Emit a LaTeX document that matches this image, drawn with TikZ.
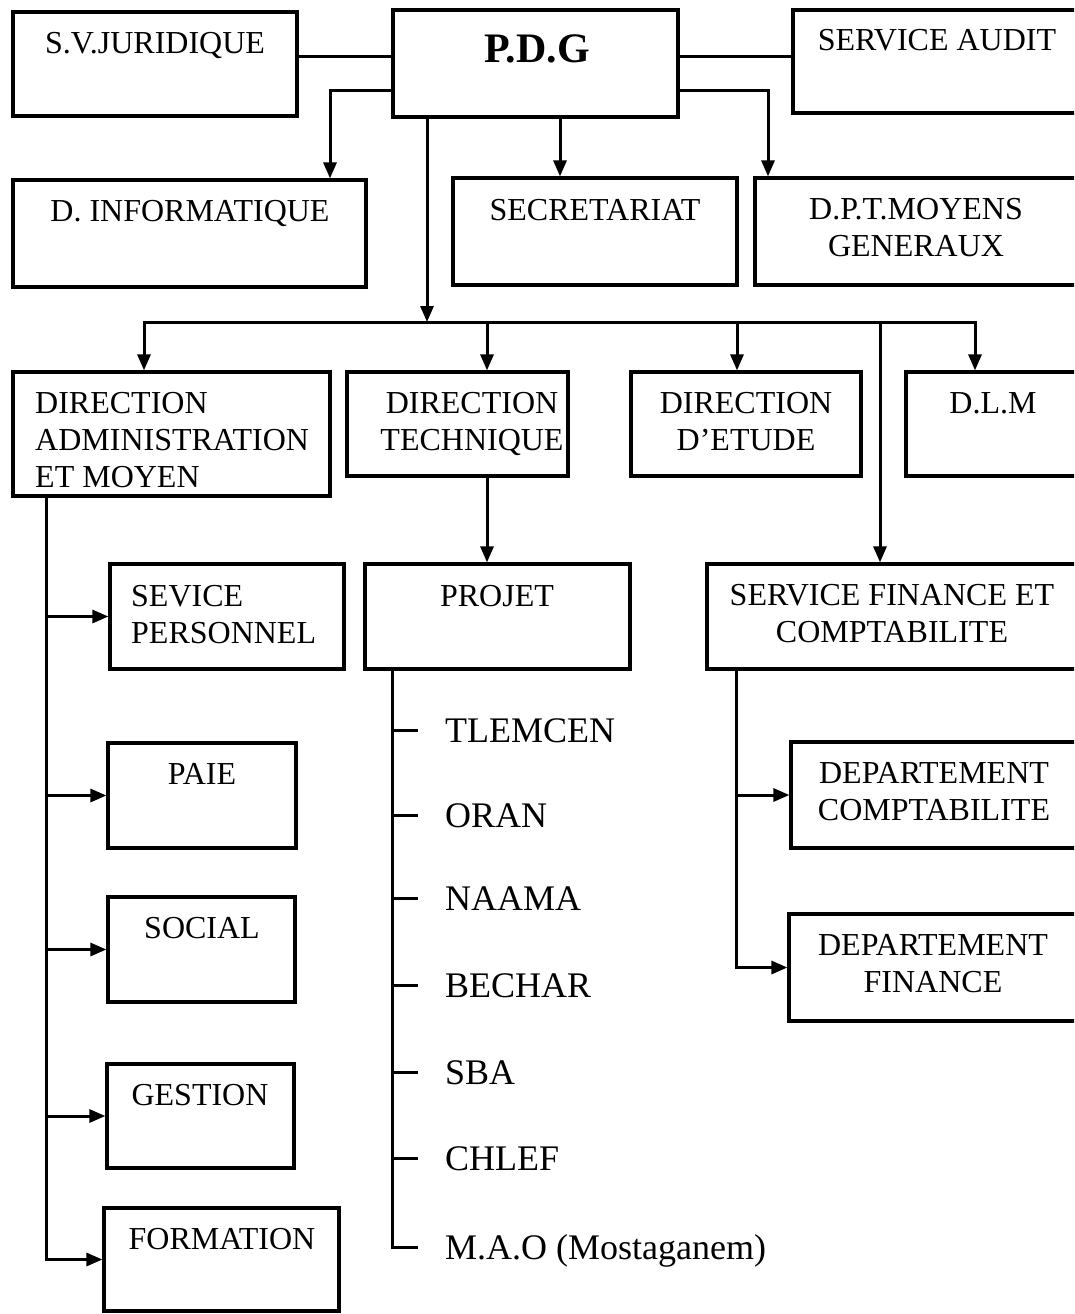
\documentclass[tikz,border=0pt]{standalone}
\usepackage{fontspec}
\setmainfont{Liberation Serif}
\usetikzlibrary{arrows.meta,fit}
% box from its two corners: name, x1, y1, x2, y2
\newcommand\orgbox[5]{\node[box, fit={(#2,#3)(#4,#5)}] (#1) {};}
\begin{document}
\begin{tikzpicture}[x=1pt,y=-1pt,
  box/.style={draw, line width=3.2pt, inner sep=0pt},
  conn/.style={line width=3pt, line cap=rect},
  arr/.style={conn, -{Triangle[length=16pt,width=13pt]}},
  lbl/.style={inner sep=0pt, align=center, anchor=north, font=\fontsize{32}{37}\selectfont},
  lbll/.style={lbl, align=left, anchor=north west},
  city/.style={inner sep=0pt, anchor=base west, font=\fontsize{36}{40}\selectfont}]
\useasboundingbox (0,0) rectangle (1074,1314);
\clip (0,0) rectangle (1074,1314);

% ---- boxes
\orgbox{sv}{13}{12}{297}{116}
\orgbox{pdg}{393}{10}{678}{117}
\orgbox{audit}{793}{10}{1090}{113}
\orgbox{info}{13}{180}{366}{287}
\orgbox{secr}{453}{178}{737}{285}
\orgbox{dpt}{755}{178}{1090}{285}
\orgbox{dam}{13}{372}{330}{496}
\orgbox{dtech}{347}{372}{568}{476}
\orgbox{detude}{631}{372}{861}{476}
\orgbox{dlm}{906}{372}{1090}{476}
\orgbox{pers}{110}{564}{344}{669}
\orgbox{projet}{365}{564}{630}{669}
\orgbox{sfc}{707}{564}{1090}{669}
\orgbox{paie}{108}{743}{296}{848}
\orgbox{social}{108}{897}{295}{1002}
\orgbox{gestion}{107}{1064}{294}{1168}
\orgbox{form}{104}{1208}{339}{1311}
\orgbox{dcompta}{791}{742}{1090}{848}
\orgbox{dfin}{789}{914}{1090}{1021}

% ---- box texts
\node[lbl] (sv-t) at (155,32) {S.V.JURIDIQUE};
\node[lbl, font=\fontsize{42}{48}\selectfont\bfseries] (pdg-t) at (537,34) {P.D.G};
\node[lbl] (audit-t) at (937,29) {SERVICE AUDIT};
\node[lbl] (info-t) at (190,200) {D. INFORMATIQUE};
\node[lbl] (secr-t) at (595,199) {SECRETARIAT};
\node[lbl] (dpt-t) at (916,198) {D.P.T.MOYENS\\GENERAUX};
\node[lbll] (dam-t) at (35,392) {DIRECTION\\ADMINISTRATION\\ET MOYEN};
\node[lbl] (dtech-t) at (472,392) {DIRECTION\\TECHNIQUE};
\node[lbl] (detude-t) at (746,392) {DIRECTION\\D’ETUDE};
\node[lbl] (dlm-t) at (993,392) {D.L.M};
\node[lbll] (pers-t) at (131,585) {SEVICE\\PERSONNEL};
\node[lbl] (projet-t) at (497,585) {PROJET};
\node[lbl] (sfc-t) at (892,584) {SERVICE FINANCE ET\\COMPTABILITE};
\node[lbl] (paie-t) at (202,763) {PAIE};
\node[lbl] (social-t) at (202,917) {SOCIAL};
\node[lbl] (gestion-t) at (200,1084) {GESTION};
\node[lbl] (form-t) at (222,1228) {FORMATION};
\node[lbl] (dcompta-t) at (934,762) {DEPARTEMENT\\COMPTABILITE};
\node[lbl] (dfin-t) at (933,934) {DEPARTEMENT\\FINANCE};

% ---- links around the P.D.G
\coordinate (yA) at (0,57);
\draw[conn] (sv.east |- yA) -- (pdg.west |- yA);
\draw[conn] (pdg.east |- yA) -- (audit.west |- yA);
\coordinate (jI) at (330,90);
\draw[arr] (pdg.west |- jI) -| (info.north -| jI);
\coordinate (jD) at (768,90);
\draw[arr] (pdg.east |- jD) -| (dpt.north -| jD);
\coordinate (jS) at (560,0);
\draw[arr] (pdg.south -| jS) -- (secr.north -| jS);

% ---- trunk and distribution bar
\coordinate (bar) at (427,322);
\coordinate (barL) at (144,322);
\coordinate (barR) at (975,322);
\coordinate (dT) at (487,322);
\coordinate (dE) at (737,322);
\coordinate (dF) at (880,322);
\draw[arr] (pdg.south -| bar) -- (bar);
\draw[conn] (barL) -- (barR);
\draw[arr] (barL) -- (dam.north -| barL);
\draw[arr] (dT) -- (dtech.north -| dT);
\draw[arr] (dE) -- (detude.north -| dE);
\draw[arr] (barR) -- (dlm.north -| barR);
\draw[arr] (dF) -- (sfc.north -| dF);
\draw[arr] (dtech.south -| dT) -- (projet.north -| dT);

% ---- administration branch
\coordinate (sA) at (46,0);
\draw[conn] (dam.south -| sA) -- (sA |- form.west);
\foreach \b in {pers,paie,social,gestion,form}
  \draw[arr] (sA |- \b.west) -- (\b.west);

% ---- finance branch
\coordinate (sF) at (736,0);
\draw[conn] (sfc.south -| sF) -- (sF |- dfin.west);
\foreach \b in {dcompta,dfin}
  \draw[arr] (sF |- \b.west) -- (\b.west);

% ---- project sites
\coordinate (sP) at (392,0);
\foreach \n/\t/\y in {tlem/TLEMCEN/730, oran/ORAN/815, naama/NAAMA/898,
    bechar/BECHAR/985, sba/SBA/1072, chlef/CHLEF/1158, mao/M.A.O (Mostaganem)/1247}{
  \node[city] (\n) at (445,\y+12) {\t};
  \coordinate (\n-t) at ([xshift=-29pt,yshift=12pt]\n.base west);
}
\draw[conn] (projet.south -| sP) -- (sP |- mao-t);
\foreach \n in {tlem,oran,naama,bechar,sba,chlef,mao}
  \draw[conn] (sP |- \n-t) -- (\n-t);
\end{tikzpicture}
\end{document}
